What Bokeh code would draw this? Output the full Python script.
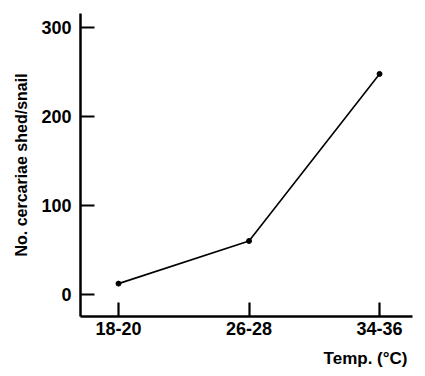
from bokeh.plotting import figure
from bokeh.models import Range1d, FixedTicker, Title
from bokeh.embed import file_html
from bokeh.resources import INLINE

temp_labels = ["18-20", "26-28", "34-36"]
temp_mid = [19, 27, 35]
cercariae = [12, 60, 248]
y_ticks = [0, 100, 200, 300]

FONT = "Liberation Sans"

p = figure(width=425, height=376, output_backend="svg", toolbar_location=None,
           x_range=Range1d(16.67, 37.02), y_range=Range1d(-25, 316),
           min_border_left=80, min_border_right=13, min_border_top=13, min_border_bottom=5)
p.outline_line_color = None
p.grid.visible = False
p.background_fill_color = "white"

p.line(temp_mid, cercariae, line_color="black", line_width=1.6)
p.scatter(temp_mid, cercariae, size=5, color="black")

for ax in (p.xaxis[0], p.yaxis[0]):
    ax.axis_line_width = 2.5
    ax.axis_line_color = "black"
    ax.major_tick_in = 14
    ax.major_tick_out = 0
    ax.major_tick_line_width = 2.2
    ax.major_tick_line_color = "black"
    ax.minor_tick_line_color = None
    ax.major_label_text_font = FONT
    ax.major_label_text_font_style = "bold"
    ax.major_label_text_font_size = "18px"
    ax.major_label_text_color = "black"

p.xaxis.ticker = FixedTicker(ticks=temp_mid)
p.xaxis.major_label_overrides = {m: l for m, l in zip(temp_mid, temp_labels)}
p.xaxis.major_label_standoff = 5

p.yaxis.ticker = FixedTicker(ticks=y_ticks)
p.yaxis.major_label_standoff = 9
p.yaxis.axis_label = "No. cercariae shed/snail"
p.yaxis.axis_label_text_font = FONT
p.yaxis.axis_label_text_font_style = "bold"
p.yaxis.axis_label_text_font_size = "16px"
p.yaxis.axis_label_text_color = "black"
p.yaxis.axis_label_standoff = 8

xt = Title(text="Temp. (°C)", align="right", offset=5, standoff=18,
           text_font=FONT, text_font_style="bold", text_font_size="17px",
           text_color="black")
p.add_layout(xt, "below")

open("out.html", "w").write(file_html(p, INLINE))
